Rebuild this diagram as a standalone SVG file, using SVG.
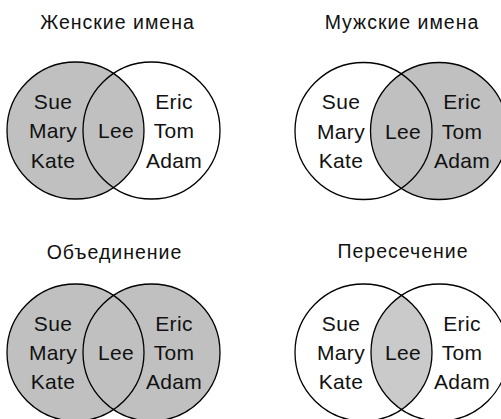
<svg xmlns="http://www.w3.org/2000/svg" width="501" height="419" viewBox="0 0 501 419">
<style>
  .bg { fill: #ffffff; }
  .ring { fill: none; stroke: #000; stroke-width: 1.3; }
  .shade { fill: #c0c0c0; stroke: none; }
  .shade2 { fill: #cacaca; stroke: none; }
  .title { font-family: "Liberation Sans", Arial, sans-serif; font-size: 19.5px; letter-spacing: 1px; fill: #111; text-anchor: middle; }
  .name { font-family: "Liberation Sans", Arial, sans-serif; font-size: 21px; letter-spacing: 0.3px; fill: #111; text-anchor: middle; }
</style>
<defs>
  <clipPath id="clipBR">
    <circle cx="363.5" cy="352.5" r="68.5"/>
  </clipPath>
</defs>
<rect class="bg" x="0" y="0" width="501" height="419"/>

<g id="venn-female">
  <text class="title" x="117.5" y="29">Женские имена</text>
  <circle class="shade" cx="75.5" cy="130.5" r="68.5"/>
  <circle class="ring" cx="75.5" cy="130.5" r="68.5"/>
  <circle class="ring" cx="151.5" cy="130.5" r="68.5"/>
  <text class="name" x="53" y="108.5">Sue</text>
  <text class="name" x="53" y="138">Mary</text>
  <text class="name" x="53" y="167.5">Kate</text>
  <text class="name" x="116" y="138">Lee</text>
  <text class="name" x="174" y="108.5">Eric</text>
  <text class="name" x="174" y="138">Tom</text>
  <text class="name" x="174" y="167.5">Adam</text>
</g>

<g id="venn-male">
  <text class="title" x="402" y="28.5">Мужские имена</text>
  <circle class="shade" cx="439" cy="131" r="68.5"/>
  <circle class="ring" cx="439" cy="131" r="68.5"/>
  <circle class="ring" cx="363.5" cy="131" r="68.5"/>
  <text class="name" x="341" y="109">Sue</text>
  <text class="name" x="341" y="138.5">Mary</text>
  <text class="name" x="341" y="168">Kate</text>
  <text class="name" x="403" y="138.5">Lee</text>
  <text class="name" x="462" y="109">Eric</text>
  <text class="name" x="462" y="138.5">Tom</text>
  <text class="name" x="462" y="168">Adam</text>
</g>

<g id="venn-union">
  <text class="title" x="114.5" y="259">Объединение</text>
  <circle class="shade" cx="75.5" cy="352.5" r="68.5"/>
  <circle class="shade" cx="151.5" cy="352.5" r="68.5"/>
  <circle class="ring" cx="75.5" cy="352.5" r="68.5"/>
  <circle class="ring" cx="151.5" cy="352.5" r="68.5"/>
  <text class="name" x="53" y="330.5">Sue</text>
  <text class="name" x="53" y="359.5">Mary</text>
  <text class="name" x="53" y="389">Kate</text>
  <text class="name" x="116" y="359.5">Lee</text>
  <text class="name" x="174" y="330.5">Eric</text>
  <text class="name" x="174" y="359.5">Tom</text>
  <text class="name" x="174" y="389">Adam</text>
</g>

<g id="venn-intersection">
  <text class="title" x="403" y="257.5">Пересечение</text>
  <circle class="shade2" cx="439.5" cy="352.5" r="68.5" clip-path="url(#clipBR)"/>
  <circle class="ring" cx="363.5" cy="352.5" r="68.5"/>
  <circle class="ring" cx="439.5" cy="352.5" r="68.5"/>
  <text class="name" x="341" y="330.5">Sue</text>
  <text class="name" x="341" y="359.5">Mary</text>
  <text class="name" x="341" y="389">Kate</text>
  <text class="name" x="403" y="359.5">Lee</text>
  <text class="name" x="462" y="330.5">Eric</text>
  <text class="name" x="462" y="359.5">Tom</text>
  <text class="name" x="462" y="389">Adam</text>
</g>

<g id="connectors"></g>
</svg>
